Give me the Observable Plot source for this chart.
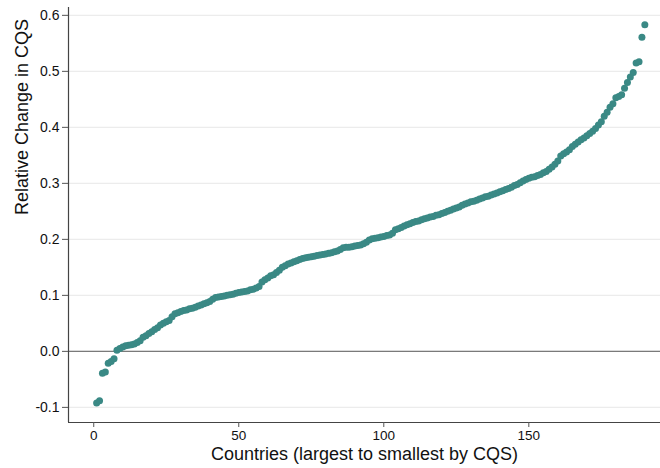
<!DOCTYPE html>
<html>
<head>
<meta charset="utf-8">
<script src="https://cdn.jsdelivr.net/npm/d3@7"></script>
<script src="https://cdn.jsdelivr.net/npm/@observablehq/plot@0.6"></script>
<style>
  html, body { margin: 0; padding: 0; background: #fff; }
  #chart { width: 660px; height: 468px; }
</style>
</head>
<body>
<div id="chart"></div>
<script>
// Relative change in CQS, countries sorted (rank 1..190)
const values = [
  -0.092, -0.088, -0.039, -0.037, -0.021, -0.018, -0.013, 0.002, 0.005, 0.008,
  0.010, 0.011, 0.012, 0.013, 0.016, 0.019, 0.025, 0.028, 0.032, 0.035,
  0.039, 0.042, 0.047, 0.050, 0.053, 0.055, 0.062, 0.067, 0.069, 0.071,
  0.073, 0.074, 0.076, 0.077, 0.079, 0.081, 0.083, 0.085, 0.087, 0.089,
  0.093, 0.096, 0.097, 0.098, 0.099, 0.100, 0.101, 0.102, 0.104, 0.105,
  0.106, 0.107, 0.108, 0.110, 0.111, 0.113, 0.116, 0.124, 0.128, 0.131,
  0.135, 0.137, 0.141, 0.145, 0.150, 0.153, 0.156, 0.158, 0.160, 0.162,
  0.164, 0.166, 0.167, 0.168, 0.169, 0.170, 0.171, 0.172, 0.173, 0.174,
  0.175, 0.176, 0.178, 0.179, 0.182, 0.185, 0.186, 0.186, 0.187, 0.188,
  0.189, 0.190, 0.192, 0.195, 0.199, 0.201, 0.202, 0.203, 0.204, 0.205,
  0.207, 0.208, 0.211, 0.217, 0.219, 0.221, 0.224, 0.226, 0.228, 0.230,
  0.232, 0.233, 0.235, 0.237, 0.238, 0.240, 0.241, 0.243, 0.244, 0.246,
  0.248, 0.250, 0.252, 0.254, 0.256, 0.258, 0.261, 0.263, 0.265, 0.267,
  0.268, 0.270, 0.272, 0.274, 0.276, 0.277, 0.279, 0.281, 0.283, 0.285,
  0.287, 0.289, 0.291, 0.293, 0.296, 0.298, 0.301, 0.304, 0.307, 0.309,
  0.311, 0.312, 0.314, 0.316, 0.319, 0.321, 0.325, 0.329, 0.334, 0.340,
  0.349, 0.353, 0.356, 0.360, 0.366, 0.370, 0.374, 0.378, 0.381, 0.385,
  0.389, 0.393, 0.398, 0.404, 0.410, 0.420, 0.427, 0.436, 0.442, 0.453,
  0.455, 0.458, 0.470, 0.480, 0.490, 0.498, 0.515, 0.517, 0.561, 0.583
];
const ranks = values.map((_, i) => i + 1);
const xTicks = [0, 50, 100, 150];
const yTicks = [-0.1, 0.0, 0.1, 0.2, 0.3, 0.4, 0.5, 0.6];
const xLabel = "Countries (largest to smallest by CQS)";
const yLabel = "Relative Change in CQS";

const data = ranks.map((r, i) => ({rank: r, value: values[i]}));
const xDomain = [-8.7, 195.4];
const yDomain = [-0.127, 0.614];
const teal = "#3a8985";

const chart = Plot.plot({
  width: 660,
  height: 468,
  marginLeft: 68,
  marginRight: 0,
  marginTop: 7,
  marginBottom: 46,
  style: {fontFamily: "'Liberation Sans', Arial, sans-serif", fontSize: "14px", color: "#111", background: "#fff"},
  x: {domain: xDomain},
  y: {domain: yDomain},
  marks: [
    Plot.ruleY(yTicks, {stroke: "#ececec", strokeWidth: 1.2}),
    Plot.ruleY([0], {stroke: "#7a7a7a", strokeWidth: 1.3}),
    Plot.ruleX([xDomain[0]], {stroke: "#444", strokeWidth: 1.2}),
    Plot.ruleY([yDomain[0]], {stroke: "#444", strokeWidth: 1.2}),
    Plot.axisX({ticks: xTicks, tickSize: 5, tickPadding: 3, stroke: "#555", label: null, fontSize: 13.5}),
    Plot.axisY({ticks: yTicks, tickSize: 6, tickPadding: 3, stroke: "#555", label: null, fontSize: 14,
      tickFormat: d => d3.format(".1f")(d).replace("\u2212", "-")}),
    Plot.dot(data, {x: "rank", y: "value", r: 3.5, fill: teal, stroke: "none"}),
    Plot.text([yLabel], {frameAnchor: "left", dx: -46, rotate: -90, fontSize: 18, fill: "#111"}),
    Plot.text([xLabel], {frameAnchor: "bottom", dy: 37.5, fontSize: 18, fill: "#111"})
  ]
});
document.getElementById("chart").appendChild(chart);
</script>
</body>
</html>
